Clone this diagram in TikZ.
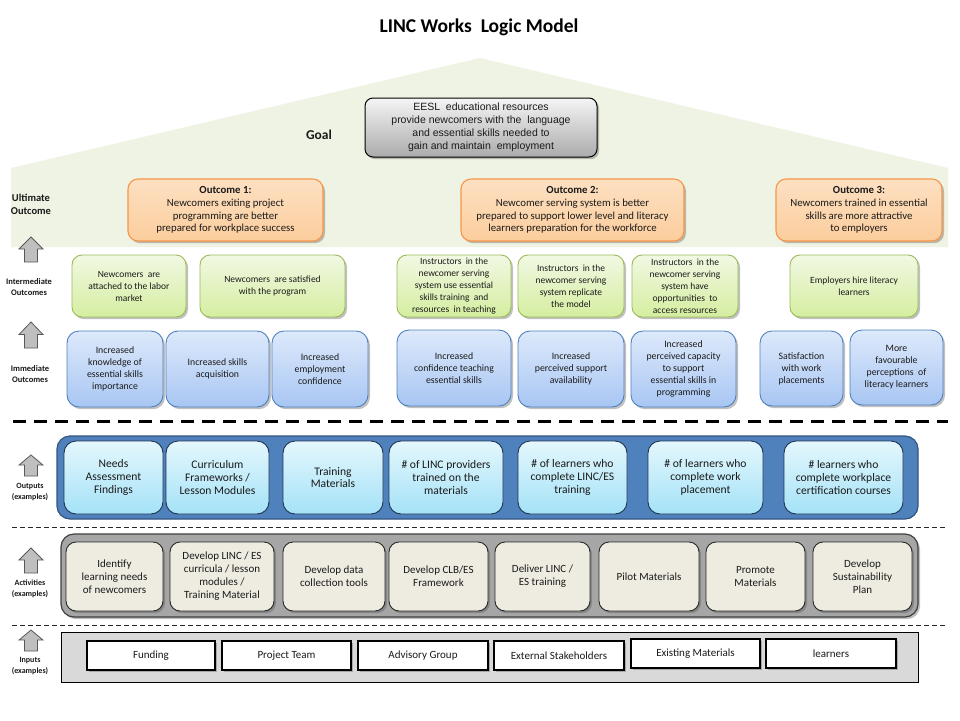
\documentclass[tikz,border=0pt]{standalone}
\usepackage{fontspec}
\setmainfont{Carlito}
\newfontfamily\arialf{Liberation Sans}
\usetikzlibrary{shadows}
\definecolor{bggreen}{HTML}{EFF3E4}
\definecolor{orT}{HTML}{FDE0C2}
\definecolor{orB}{HTML}{FBCD9C}
\definecolor{orD}{HTML}{F79646}
\definecolor{grT}{HTML}{F1F8E3}
\definecolor{grB}{HTML}{D5EEA0}
\definecolor{grD}{HTML}{9BBB59}
\definecolor{blT}{HTML}{DDE9FB}
\definecolor{blB}{HTML}{A8C6F3}
\definecolor{blD}{HTML}{4F81BD}
\definecolor{cyT}{HTML}{E4F7FD}
\definecolor{cyB}{HTML}{A4E2F7}
\definecolor{cyD}{HTML}{1F3350}
\definecolor{band}{HTML}{4F81BD}
\definecolor{bandD}{HTML}{34557F}
\definecolor{actF}{HTML}{EEECE1}
\definecolor{actBand}{HTML}{A6A6A6}
\definecolor{inBand}{HTML}{D9D9D9}
\definecolor{txt}{HTML}{1A1A1A}
\tikzset{
  shd/.style={drop shadow={shadow xshift=2pt,shadow yshift=-2.2pt,opacity=0.35,fill=black!70}},
  base/.style={align=center,inner sep=1pt,text=txt},
  ultbox/.style={base,shd,rounded corners=10pt,draw=orD,line width=1.1pt,top color=orT,bottom color=orB,font=\fontsize{10.8}{12.7}\selectfont},
  intbox/.style={base,shd,rounded corners=10pt,draw=grD,line width=0.9pt,top color=grT,bottom color=grB,font=\fontsize{9.5}{12}\selectfont},
  immbox/.style={base,shd,rounded corners=12pt,draw=blD,line width=0.9pt,top color=blT,bottom color=blB,font=\fontsize{9.8}{12}\selectfont},
  outbox/.style={base,rounded corners=12pt,draw=cyD,line width=0.9pt,top color=cyT,bottom color=cyB,font=\fontsize{11.6}{12.8}\selectfont},
  actbox/.style={base,shd,rounded corners=10pt,draw=black!85,line width=0.9pt,fill=actF,font=\fontsize{11}{13}\selectfont},
  inbox/.style={base,shd,draw=black,line width=1.8pt,fill=white,font=\fontsize{11}{13}\selectfont},
  lbl/.style={align=center,inner sep=0pt,text=txt,font=\bfseries\fontsize{8.5}{11}\selectfont},
  lbls/.style={align=center,inner sep=0pt,text=txt,font=\bfseries\fontsize{8}{10.5}\selectfont},
  arrowsty/.style={fill=black!25,draw=black!65,line width=0.8pt},
  thickdash/.style={line width=3pt,dash pattern=on 13pt off 8pt},
  thindash/.style={line width=0.8pt,dash pattern=on 5pt off 3pt,black!85},
}
\newcommand\mybox[7]{%
  \pgfmathsetmacro\bxw{#5-#3}\pgfmathsetmacro\bxh{#6-#4}%
  \node[#2,minimum width=\bxw pt,minimum height=\bxh pt] (#1) at ({(#3+#5)/2},{(#4+#6)/2}) {#7};}
\newcommand\uparr[3]{%
  \pgfmathsetmacro\hb{#2+0.48*(#3-#2)}%
  \draw[arrowsty] (#1,#2) -- (#1+12,\hb) -- (#1+6.5,\hb) -- (#1+6.5,#3) -- (#1-6.5,#3) -- (#1-6.5,\hb) -- (#1-12,\hb) -- cycle;}
\begin{document}
\begin{tikzpicture}[x=1pt,y=-1pt]
\useasboundingbox (0,0) rectangle (960,720);
\fill[white] (0,0) rectangle (960,720);
% title
\node[font=\bfseries\fontsize{19.5}{22}\selectfont,text=black] (title) at (479,27) {LINC Works\ \ Logic Model};
% green roof background
\fill[bggreen] (11,247) -- (11,168) -- (480,58) -- (948,168) -- (948,247) -- cycle;
% goal
\node[font=\bfseries\fontsize{13.5}{15}\selectfont,text=txt] (goallbl) at (319,135) {Goal};
\mybox{goal}{base,shd,rounded corners=8pt,draw=black,line width=1pt,top color=black!4,bottom color=black!33,font=\arialf\fontsize{10.5}{13}\selectfont}{365}{98}{597}{157}{EESL\ \ educational resources\\provide newcomers with the\ \ language\\and essential skills needed to\\gain and maintain\ \ employment}
% left labels
\node[lbl,font=\bfseries\fontsize{10.5}{13}\selectfont] (lult) at (31,204) {Ultimate\\Outcome};
\node[lbl] (lint) at (29,287) {Intermediate\\Outcomes};
\node[lbl] (limm) at (30,374) {Immediate\\Outcomes};
\node[lbls] (lout) at (30,492) {Outputs\\(examples)};
\node[lbls] (lact) at (30,589) {Activities\\(examples)};
\node[lbls] (linp) at (30,666) {Inputs\\(examples)};
\uparr{31}{237}{262}
\uparr{31}{322}{348}
\uparr{31}{455}{476}
\uparr{31}{548}{573}
\uparr{31}{630}{651}
% ultimate outcomes
\mybox{o1}{ultbox}{128}{179}{323}{241}{\textbf{Outcome 1:}\\Newcomers exiting project\\programming are better\\prepared for workplace success}
\mybox{o2}{ultbox}{461}{179}{684}{241}{\textbf{Outcome 2:}\\Newcomer serving system is better\\prepared to support lower level and literacy\\learners preparation for the workforce}
\mybox{o3}{ultbox}{776}{179}{942}{241}{\textbf{Outcome 3:}\\Newcomers trained in essential\\skills are more attractive\\to employers}
% intermediate outcomes
\mybox{i1}{intbox}{72}{255}{186}{317}{Newcomers\ \ are\\attached to the labor\\market}
\mybox{i2}{intbox}{200}{255}{345}{317}{Newcomers\ \ are satisfied\\with the program}
\mybox{i3}{intbox}{397}{255}{511}{317}{Instructors\ \ in the\\newcomer serving\\system use essential\\skills training\ \ and\\resources\ \ in teaching}
\mybox{i4}{intbox}{518}{255}{624}{317}{Instructors\ \ in the\\newcomer serving\\system replicate\\the model}
\mybox{i5}{intbox}{632}{255}{738}{317}{Instructors\ \ in the\\newcomer serving\\system have\\opportunities\ \ to\\access resources}
\mybox{i6}{intbox}{790}{255}{918}{317}{Employers hire literacy\\learners}
% immediate outcomes
\mybox{m1}{immbox}{67}{331}{163}{407}{Increased\\knowledge of\\essential skills\\importance}
\mybox{m2}{immbox}{166}{331}{269}{407}{Increased skills\\acquisition}
\mybox{m3}{immbox}{272}{331}{368}{407}{Increased\\employment\\confidence}
\mybox{m4}{immbox}{397}{330}{511}{406}{Increased\\confidence teaching\\essential skills}
\mybox{m5}{immbox}{518}{331}{624}{407}{Increased\\perceived support\\availability}
\mybox{m6}{immbox}{631}{331}{736}{407}{Increased\\perceived capacity\\to support\\essential skills in\\programming}
\mybox{m7}{immbox}{760}{331}{843}{406}{Satisfaction\\with work\\placements}
\mybox{m8}{immbox}{850}{330}{943}{405}{More\\favourable\\perceptions\ \ of\\literacy learners}
% separators
\coordinate (d1a) at (13,421); \coordinate (d1b) at (948,421);
\draw[thickdash] (d1a) -- (d1b);
\coordinate (d2a) at (12,527); \coordinate (d2b) at (945,527);
\draw[thindash] (d2a) -- (d2b);
\coordinate (d3a) at (12,625); \coordinate (d3b) at (945,625);
\draw[thindash] (d3a) -- (d3b);
% outputs
\mybox{outband}{rounded corners=13pt,fill=band,draw=bandD,line width=1.2pt}{57}{436}{918}{519}{}
\mybox{p1}{outbox}{64}{441}{163}{514}{Needs\\Assessment\\Findings}
\mybox{p2}{outbox}{166}{441}{269}{514}{Curriculum\\Frameworks /\\Lesson Modules}
\mybox{p3}{outbox}{283}{441}{383}{514}{Training\\Materials}
\mybox{p4}{outbox}{389}{441}{503}{514}{\# of LINC providers\\trained on the\\materials}
\mybox{p5}{outbox}{518}{441}{627}{514}{\# of learners who\\complete LINC/ES\\training}
\mybox{p6}{outbox}{648}{441}{763}{514}{\# of learners who\\complete work\\placement}
\mybox{p7}{outbox}{784}{441}{903}{514}{\# learners who\\complete workplace\\certification courses}
% activities
\mybox{actband}{shd,rounded corners=13pt,fill=actBand,draw=black!75,line width=1.2pt}{61}{534}{918}{617}{}
\mybox{a1}{actbox}{66}{542}{163}{611}{Identify\\learning needs\\of newcomers}
\mybox{a2}{actbox}{170}{542}{274}{611}{Develop LINC / ES\\curricula / lesson\\modules /\\Training Material}
\mybox{a3}{actbox}{283}{542}{385}{611}{Develop data\\collection tools}
\mybox{a4}{actbox}{389}{542}{488}{611}{Develop CLB/ES\\Framework}
\mybox{a5}{actbox}{495}{542}{590}{611}{Deliver LINC /\\ES training}
\mybox{a6}{actbox}{599}{542}{699}{611}{Pilot Materials}
\mybox{a7}{actbox}{706}{542}{805}{611}{Promote\\Materials}
\mybox{a8}{actbox}{813}{542}{912}{611}{Develop\\Sustainability\\Plan}
% inputs
\mybox{inband}{fill=inBand,draw=black,line width=0.8pt}{61}{632}{918}{682}{}
\mybox{n1}{inbox}{87}{641}{215}{670}{Funding}
\mybox{n2}{inbox}{222}{641}{351}{670}{Project Team}
\mybox{n3}{inbox}{358}{641}{488}{670}{Advisory Group}
\mybox{n4}{inbox}{494}{641}{624}{670}{External Stakeholders}
\mybox{n5}{inbox}{631}{639}{760}{668}{Existing Materials}
\mybox{n6}{inbox}{766}{639}{896}{668}{learners}
\end{tikzpicture}
\end{document}
